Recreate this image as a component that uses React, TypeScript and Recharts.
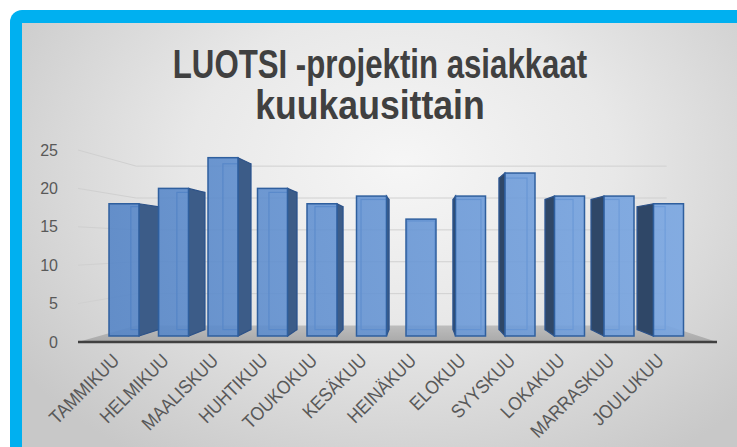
import {
  BarChart,
  Bar,
  XAxis,
  YAxis,
  CartesianGrid,
} from "recharts";

const months = [
  "TAMMIKUU",
  "HELMIKUU",
  "MAALISKUU",
  "HUHTIKUU",
  "TOUKOKUU",
  "KESÄKUU",
  "HEINÄKUU",
  "ELOKUU",
  "SYYSKUU",
  "LOKAKUU",
  "MARRASKUU",
  "JOULUKUU",
];
const customers = [18, 20, 24, 20, 18, 19, 16, 19, 22, 19, 19, 18];
const yTicks = [0, 5, 10, 15, 20, 25];

const data = months.map((m, i) => ({ month: m, customers: customers[i] }));

// fake 3d: everything behind the front plane shrinks toward this point
const VP_X = 421;
const VP_Y = 245;
const BAR_DEPTH = 0.93;
const FLOOR_DEPTH = 0.83;

const px = (v: number, s: number) => VP_X + (v - VP_X) * s;
const py = (v: number, s: number) => VP_Y + (v - VP_Y) * s;

function Bar3D(props: any) {
  const { x, y, width, height } = props;
  if (height == null || width == null) return null;
  const top = y;
  const bottom = y + height - 6;
  const l = x;
  const r = x + width;
  const bl = px(l, BAR_DEPTH);
  const br = px(r, BAR_DEPTH);
  const bt = py(top, BAR_DEPTH);
  const bb = py(bottom, BAR_DEPTH);
  const cx = x + width / 2;

  let side = null;
  if (cx < VP_X - 3) {
    side = (
      <polygon
        points={`${r},${top} ${br},${bt} ${br},${bb} ${r},${bottom}`}
        fill="#3c5c88"
        stroke="#2d5288"
        strokeWidth={1.2}
      />
    );
  } else if (cx > VP_X + 3) {
    side = (
      <polygon
        points={`${l},${top} ${bl},${bt} ${bl},${bb} ${l},${bottom}`}
        fill="#2f4767"
        stroke="#2d5288"
        strokeWidth={1.2}
      />
    );
  }

  return (
    <g>
      <rect
        x={bl}
        y={bt}
        width={br - bl}
        height={bb - bt}
        fill="none"
        stroke="#3f6eae"
        strokeWidth={1.2}
      />
      {side}
      <rect
        x={l}
        y={top}
        width={width}
        height={bottom - top}
        fill="url(#frontGrad)"
        fillOpacity={0.88}
        stroke="#2f5f9e"
        strokeWidth={1.5}
      />
    </g>
  );
}

// horizontal grid: lines pushed back onto the rear wall, the zero line becomes the floor
function BackGridLine(props: any) {
  const { x1, y1, x2, y, height } = props;
  if (x1 == null) return null;
  const bx1 = px(x1, FLOOR_DEPTH);
  const bx2 = px(x2, FLOOR_DEPTH);
  const by = py(y1, FLOOR_DEPTH);
  if (Math.abs(y1 - (y + height)) < 1) {
    const pts = `${x1},${y1} ${x2},${y1} ${bx2},${by} ${bx1},${by}`;
    return (
      <g>
        <polygon points={pts} fill="url(#floorGrad)" />
        <line x1={x1} y1={y1} x2={x2} y2={y1} stroke="#404040" strokeWidth={2.5} />
      </g>
    );
  }
  return (
    <g>
      <line x1={x1} y1={y1} x2={bx1} y2={by} stroke="#d0d0d0" strokeWidth={1} />
      <line x1={bx1} y1={by} x2={bx2} y2={by} stroke="#d0d0d0" strokeWidth={1} />
    </g>
  );
}

function MonthTick(props: any) {
  const { x, y, payload } = props;
  return (
    <g transform={`translate(${x - 8},${y + 7}) rotate(-45)`}>
      <text
        x={0}
        y={0}
        dy="0.35em"
        textAnchor="end"
        fill="#595959"
        fontSize={19}
        fontFamily="'Liberation Sans', sans-serif"
        transform="scale(0.9,1)"
      >
        {payload.value}
      </text>
    </g>
  );
}

const titleFont = {
  position: "absolute" as const,
  left: 0,
  width: 760,
  textAlign: "center" as const,
  fontFamily: "'Liberation Sans', sans-serif",
  fontWeight: "bold" as const,
  fontSize: 40,
  lineHeight: "38px",
  color: "#404040",
  whiteSpace: "nowrap" as const,
};

export default function App() {
  return (
    <div
      style={{
        position: "absolute",
        left: 0,
        top: 0,
        width: 737,
        height: 447,
        overflow: "hidden",
        background: "#ffffff",
      }}
    >
      <div
        style={{
          position: "absolute",
          left: 10,
          top: 10,
          width: 780,
          height: 480,
          background: "#00b0f0",
          borderTopLeftRadius: 12,
        }}
      />
      <div
        style={{
          position: "absolute",
          left: 22,
          top: 23,
          width: 760,
          height: 470,
          background:
            "radial-gradient(ellipse 62% 75% at 50% 30%, #f6f6f6 0%, #e8e8e8 45%, #c8c8c8 100%)",
        }}
      />
      <div
        style={{
          ...titleFont,
          top: 45,
          transform: "scaleX(0.78)",
          transformOrigin: "380px 0",
          left: 0,
        }}
      >
        LUOTSI -projektin asiakkaat
      </div>
      <div
        style={{
          ...titleFont,
          top: 86,
          left: -10,
          transform: "scaleX(0.89)",
          transformOrigin: "380px 0",
        }}
      >
        kuukausittain
      </div>
      <div style={{ position: "absolute", left: 0, top: 0 }}>
        <BarChart
          width={737}
          height={447}
          data={data}
          margin={{ top: 150, right: 20, bottom: 0, left: 0 }}
          barSize={30}
        >
          <defs>
            <linearGradient
              id="frontGrad"
              gradientUnits="userSpaceOnUse"
              x1={99}
              y1={0}
              x2={693}
              y2={0}
            >
              <stop offset="0%" stopColor="#5283c6" />
              <stop offset="100%" stopColor="#77a5e2" />
            </linearGradient>
            <linearGradient id="floorGrad" x1="0" y1="0" x2="0" y2="1">
              <stop offset="0%" stopColor="#bdbdbd" />
              <stop offset="100%" stopColor="#a9a9a9" />
            </linearGradient>
          </defs>
          <CartesianGrid vertical={false} horizontal={BackGridLine} />
          <XAxis
            dataKey="month"
            interval={0}
            axisLine={false}
            tickLine={false}
            height={105}
            padding={{ left: 21, right: 24 }}
            tick={MonthTick}
          />
          <YAxis
            domain={[0, 25]}
            ticks={yTicks}
            axisLine={false}
            tickLine={false}
            width={78}
            tickMargin={14}
            tick={{
              fill: "#595959",
              fontSize: 16,
              fontFamily: "'Liberation Sans', sans-serif",
            }}
          />
          <Bar
            dataKey="customers"
            shape={Bar3D}
            isAnimationActive={false}
          />
        </BarChart>
      </div>
    </div>
  );
}
